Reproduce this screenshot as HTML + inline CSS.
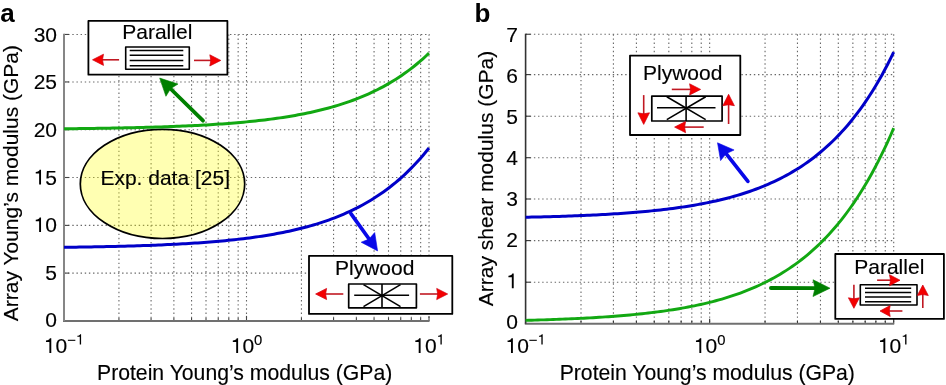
<!DOCTYPE html>
<html><head><meta charset="utf-8"><title>figure</title><style>html,body{margin:0;padding:0;background:#fff;}
svg{display:block;will-change:transform;}
.t{font-family:"Liberation Sans", sans-serif;font-size:21px;fill:#000;stroke:#000;stroke-width:0.15px;}
.pl{font-family:"Liberation Sans", sans-serif;font-size:26px;font-weight:bold;fill:#000;}
.g{stroke:#666;stroke-width:1.1;stroke-dasharray:1.4 2.75;fill:none;}
</style></head>
<body>
<svg width="946" height="385" viewBox="0 0 946 385">
<rect width="946" height="385" fill="#fff"/>
<line x1="118.94" y1="34.45" x2="118.94" y2="320.90" class="g"/>
<line x1="151.07" y1="34.45" x2="151.07" y2="320.90" class="g"/>
<line x1="173.88" y1="34.45" x2="173.88" y2="320.90" class="g"/>
<line x1="191.56" y1="34.45" x2="191.56" y2="320.90" class="g"/>
<line x1="206.01" y1="34.45" x2="206.01" y2="320.90" class="g"/>
<line x1="218.23" y1="34.45" x2="218.23" y2="320.90" class="g"/>
<line x1="228.81" y1="34.45" x2="228.81" y2="320.90" class="g"/>
<line x1="238.15" y1="34.45" x2="238.15" y2="320.90" class="g"/>
<line x1="246.50" y1="34.45" x2="246.50" y2="320.90" class="g"/>
<line x1="301.44" y1="34.45" x2="301.44" y2="320.90" class="g"/>
<line x1="333.57" y1="34.45" x2="333.57" y2="320.90" class="g"/>
<line x1="356.38" y1="34.45" x2="356.38" y2="320.90" class="g"/>
<line x1="374.06" y1="34.45" x2="374.06" y2="320.90" class="g"/>
<line x1="388.51" y1="34.45" x2="388.51" y2="320.90" class="g"/>
<line x1="400.73" y1="34.45" x2="400.73" y2="320.90" class="g"/>
<line x1="411.31" y1="34.45" x2="411.31" y2="320.90" class="g"/>
<line x1="420.65" y1="34.45" x2="420.65" y2="320.90" class="g"/>
<line x1="429.00" y1="34.45" x2="429.00" y2="320.90" class="g"/>
<line x1="64.00" y1="273.10" x2="429.70" y2="273.10" class="g"/>
<line x1="64.00" y1="225.40" x2="429.70" y2="225.40" class="g"/>
<line x1="64.00" y1="177.50" x2="429.70" y2="177.50" class="g"/>
<line x1="64.00" y1="129.75" x2="429.70" y2="129.75" class="g"/>
<line x1="64.00" y1="81.95" x2="429.70" y2="81.95" class="g"/>
<line x1="64.00" y1="34.45" x2="429.70" y2="34.45" class="g"/>
<ellipse cx="162.5" cy="183.9" rx="82.2" ry="54.6" fill="#ffff00" fill-opacity="0.3" stroke="#000" stroke-width="1.7"/>
<text x="100.40" y="185.20" text-anchor="start" class="t" >Exp. data [25]</text>
<line x1="64.00" y1="320.90" x2="64.00" y2="315.90" stroke="#444" stroke-width="1.1"/>
<line x1="118.94" y1="320.90" x2="118.94" y2="317.90" stroke="#444" stroke-width="1.1"/>
<line x1="151.07" y1="320.90" x2="151.07" y2="317.90" stroke="#444" stroke-width="1.1"/>
<line x1="173.88" y1="320.90" x2="173.88" y2="317.90" stroke="#444" stroke-width="1.1"/>
<line x1="191.56" y1="320.90" x2="191.56" y2="317.90" stroke="#444" stroke-width="1.1"/>
<line x1="206.01" y1="320.90" x2="206.01" y2="317.90" stroke="#444" stroke-width="1.1"/>
<line x1="218.23" y1="320.90" x2="218.23" y2="317.90" stroke="#444" stroke-width="1.1"/>
<line x1="228.81" y1="320.90" x2="228.81" y2="317.90" stroke="#444" stroke-width="1.1"/>
<line x1="238.15" y1="320.90" x2="238.15" y2="317.90" stroke="#444" stroke-width="1.1"/>
<line x1="246.50" y1="320.90" x2="246.50" y2="315.90" stroke="#444" stroke-width="1.1"/>
<line x1="301.44" y1="320.90" x2="301.44" y2="317.90" stroke="#444" stroke-width="1.1"/>
<line x1="333.57" y1="320.90" x2="333.57" y2="317.90" stroke="#444" stroke-width="1.1"/>
<line x1="356.38" y1="320.90" x2="356.38" y2="317.90" stroke="#444" stroke-width="1.1"/>
<line x1="374.06" y1="320.90" x2="374.06" y2="317.90" stroke="#444" stroke-width="1.1"/>
<line x1="388.51" y1="320.90" x2="388.51" y2="317.90" stroke="#444" stroke-width="1.1"/>
<line x1="400.73" y1="320.90" x2="400.73" y2="317.90" stroke="#444" stroke-width="1.1"/>
<line x1="411.31" y1="320.90" x2="411.31" y2="317.90" stroke="#444" stroke-width="1.1"/>
<line x1="420.65" y1="320.90" x2="420.65" y2="317.90" stroke="#444" stroke-width="1.1"/>
<line x1="429.00" y1="320.90" x2="429.00" y2="315.90" stroke="#444" stroke-width="1.1"/>
<line x1="64.00" y1="320.90" x2="69.00" y2="320.90" stroke="#444" stroke-width="1.1"/>
<line x1="64.00" y1="273.10" x2="69.00" y2="273.10" stroke="#444" stroke-width="1.1"/>
<line x1="64.00" y1="225.40" x2="69.00" y2="225.40" stroke="#444" stroke-width="1.1"/>
<line x1="64.00" y1="177.50" x2="69.00" y2="177.50" stroke="#444" stroke-width="1.1"/>
<line x1="64.00" y1="129.75" x2="69.00" y2="129.75" stroke="#444" stroke-width="1.1"/>
<line x1="64.00" y1="81.95" x2="69.00" y2="81.95" stroke="#444" stroke-width="1.1"/>
<line x1="64.00" y1="34.45" x2="69.00" y2="34.45" stroke="#444" stroke-width="1.1"/>
<line x1="63.00" y1="320.90" x2="429.50" y2="320.90" stroke="#707070" stroke-width="2.0"/>
<line x1="64.00" y1="33.85" x2="64.00" y2="320.90" stroke="#868686" stroke-width="2.0"/>
<path d="M64.00,128.75 L67.04,128.72 L70.08,128.69 L73.13,128.66 L76.17,128.63 L79.21,128.59 L82.25,128.56 L85.29,128.52 L88.33,128.48 L91.38,128.44 L94.42,128.40 L97.46,128.35 L100.50,128.31 L103.54,128.26 L106.58,128.21 L109.62,128.16 L112.67,128.11 L115.71,128.05 L118.75,127.99 L121.79,127.93 L124.83,127.87 L127.88,127.81 L130.92,127.74 L133.96,127.67 L137.00,127.60 L140.04,127.52 L143.08,127.45 L146.12,127.36 L149.17,127.28 L152.21,127.19 L155.25,127.10 L158.29,127.01 L161.33,126.91 L164.38,126.81 L167.42,126.70 L170.46,126.59 L173.50,126.48 L176.54,126.36 L179.58,126.23 L182.62,126.11 L185.67,125.97 L188.71,125.83 L191.75,125.69 L194.79,125.54 L197.83,125.38 L200.88,125.22 L203.92,125.05 L206.96,124.88 L210.00,124.70 L213.04,124.51 L216.08,124.31 L219.12,124.11 L222.17,123.90 L225.21,123.68 L228.25,123.45 L231.29,123.21 L234.33,122.97 L237.38,122.71 L240.42,122.44 L243.46,122.17 L246.50,121.88 L249.54,121.58 L252.58,121.27 L255.62,120.95 L258.67,120.61 L261.71,120.26 L264.75,119.90 L267.79,119.52 L270.83,119.13 L273.88,118.73 L276.92,118.30 L279.96,117.87 L283.00,117.41 L286.04,116.94 L289.08,116.44 L292.12,115.93 L295.17,115.40 L298.21,114.85 L301.25,114.27 L304.29,113.68 L307.33,113.06 L310.38,112.41 L313.42,111.75 L316.46,111.05 L319.50,110.33 L322.54,109.58 L325.58,108.80 L328.62,107.99 L331.67,107.14 L334.71,106.27 L337.75,105.36 L340.79,104.41 L343.83,103.43 L346.88,102.41 L349.92,101.35 L352.96,100.25 L356.00,99.10 L359.04,97.91 L362.08,96.68 L365.12,95.39 L368.17,94.06 L371.21,92.67 L374.25,91.23 L377.29,89.73 L380.33,88.17 L383.38,86.56 L386.42,84.87 L389.46,83.13 L392.50,81.31 L395.54,79.43 L398.58,77.47 L401.62,75.43 L404.67,73.31 L407.71,71.12 L410.75,68.83 L413.79,66.46 L416.83,63.99 L419.88,61.43 L422.92,58.76 L425.96,55.99 L429.00,53.12" fill="none" stroke="#12a812" stroke-width="3.0" stroke-linejoin="round"/>
<path d="M64.00,247.32 L67.04,247.28 L70.08,247.24 L73.13,247.19 L76.17,247.15 L79.21,247.11 L82.25,247.06 L85.29,247.01 L88.33,246.96 L91.38,246.90 L94.42,246.85 L97.46,246.79 L100.50,246.73 L103.54,246.67 L106.58,246.60 L109.62,246.54 L112.67,246.47 L115.71,246.39 L118.75,246.32 L121.79,246.24 L124.83,246.16 L127.88,246.08 L130.92,245.99 L133.96,245.90 L137.00,245.80 L140.04,245.70 L143.08,245.60 L146.12,245.49 L149.17,245.38 L152.21,245.27 L155.25,245.15 L158.29,245.02 L161.33,244.90 L164.38,244.76 L167.42,244.62 L170.46,244.48 L173.50,244.33 L176.54,244.17 L179.58,244.01 L182.62,243.84 L185.67,243.67 L188.71,243.48 L191.75,243.29 L194.79,243.10 L197.83,242.89 L200.88,242.68 L203.92,242.46 L206.96,242.23 L210.00,241.99 L213.04,241.75 L216.08,241.49 L219.12,241.22 L222.17,240.94 L225.21,240.65 L228.25,240.35 L231.29,240.04 L234.33,239.72 L237.38,239.38 L240.42,239.03 L243.46,238.67 L246.50,238.29 L249.54,237.90 L252.58,237.49 L255.62,237.07 L258.67,236.63 L261.71,236.17 L264.75,235.70 L267.79,235.20 L270.83,234.69 L273.88,234.16 L276.92,233.60 L279.96,233.03 L283.00,232.43 L286.04,231.81 L289.08,231.16 L292.12,230.49 L295.17,229.79 L298.21,229.07 L301.25,228.31 L304.29,227.53 L307.33,226.72 L310.38,225.87 L313.42,224.99 L316.46,224.08 L319.50,223.13 L322.54,222.15 L325.58,221.12 L328.62,220.06 L331.67,218.95 L334.71,217.80 L337.75,216.61 L340.79,215.37 L343.83,214.08 L346.88,212.74 L349.92,211.35 L352.96,209.90 L356.00,208.40 L359.04,206.84 L362.08,205.22 L365.12,203.53 L368.17,201.78 L371.21,199.96 L374.25,198.06 L377.29,196.10 L380.33,194.05 L383.38,191.93 L386.42,189.73 L389.46,187.43 L392.50,185.05 L395.54,182.58 L398.58,180.00 L401.62,177.33 L404.67,174.55 L407.71,171.67 L410.75,168.67 L413.79,165.55 L416.83,162.31 L419.88,158.95 L422.92,155.45 L425.96,151.82 L429.00,148.04" fill="none" stroke="#0000c8" stroke-width="3.0" stroke-linejoin="round"/>
<line x1="203.00" y1="120.70" x2="170.54" y2="88.76" stroke="#008000" stroke-width="3.8" stroke-linecap="round"/>
<path d="M159.70,78.10 L177.99,84.03 L170.54,88.76 L165.93,96.29 Z" fill="#008000" stroke="#008000" stroke-width="0.6" stroke-linejoin="round"/>
<line x1="350.90" y1="213.60" x2="369.10" y2="239.03" stroke="#0808e8" stroke-width="3.7" stroke-linecap="round"/>
<path d="M377.60,250.90 L361.19,242.23 L369.10,239.03 L374.69,232.57 Z" fill="#0808e8" stroke="#0808e8" stroke-width="0.6" stroke-linejoin="round"/>
<rect x="88.40" y="20.90" width="139.00" height="53.80" fill="#fff" stroke="#000" stroke-width="1.8" stroke-linejoin="round"/>
<text x="157.30" y="38.80" text-anchor="middle" class="t" >Parallel</text>
<rect x="125.70" y="47.00" width="63.60" height="22.20" fill="#fff" stroke="#000" stroke-width="1.6" stroke-linejoin="round"/>
<line x1="129.70" y1="50.40" x2="183.30" y2="50.40" stroke="#000" stroke-width="1.5"/>
<line x1="129.70" y1="55.30" x2="183.30" y2="55.30" stroke="#000" stroke-width="1.5"/>
<line x1="129.70" y1="60.50" x2="183.30" y2="60.50" stroke="#000" stroke-width="1.5"/>
<line x1="129.70" y1="65.80" x2="183.30" y2="65.80" stroke="#000" stroke-width="1.5"/>
<line x1="119.10" y1="59.80" x2="101.50" y2="59.80" stroke="#c01822" stroke-width="1.6"/>
<path d="M92.50,59.80 L103.50,54.20 L102.50,59.80 L103.50,65.40 Z" fill="#f40000" stroke="#d00010" stroke-width="0.7" stroke-linejoin="round"/>
<line x1="194.00" y1="60.40" x2="211.80" y2="60.40" stroke="#c01822" stroke-width="1.6"/>
<path d="M220.80,60.40 L209.80,66.00 L210.80,60.40 L209.80,54.80 Z" fill="#f40000" stroke="#d00010" stroke-width="0.7" stroke-linejoin="round"/>
<rect x="309.00" y="255.80" width="143.30" height="58.10" fill="#fff" stroke="#000" stroke-width="1.8" stroke-linejoin="round"/>
<text x="374.70" y="274.60" text-anchor="middle" class="t" >Plywood</text>
<rect x="348.70" y="284.00" width="67.70" height="23.80" fill="#fff" stroke="#000" stroke-width="1.7" stroke-linejoin="round"/>
<line x1="354.20" y1="295.20" x2="409.10" y2="295.20" stroke="#000" stroke-width="1.6"/>
<line x1="382.00" y1="284.00" x2="382.00" y2="307.80" stroke="#000" stroke-width="1.6"/>
<line x1="363.50" y1="284.60" x2="400.50" y2="306.60" stroke="#000" stroke-width="1.6"/>
<line x1="400.50" y1="284.60" x2="363.50" y2="306.60" stroke="#000" stroke-width="1.6"/>
<line x1="343.30" y1="294.00" x2="324.60" y2="294.00" stroke="#c01822" stroke-width="1.6"/>
<path d="M315.60,294.00 L326.60,288.40 L325.60,294.00 L326.60,299.60 Z" fill="#f40000" stroke="#d00010" stroke-width="0.7" stroke-linejoin="round"/>
<line x1="419.90" y1="294.00" x2="438.70" y2="294.00" stroke="#c01822" stroke-width="1.6"/>
<path d="M447.70,294.00 L436.70,299.60 L437.70,294.00 L436.70,288.40 Z" fill="#f40000" stroke="#d00010" stroke-width="0.7" stroke-linejoin="round"/>
<line x1="581.00" y1="34.25" x2="581.00" y2="323.70" class="g"/>
<line x1="613.41" y1="34.25" x2="613.41" y2="323.70" class="g"/>
<line x1="636.41" y1="34.25" x2="636.41" y2="323.70" class="g"/>
<line x1="654.25" y1="34.25" x2="654.25" y2="323.70" class="g"/>
<line x1="668.82" y1="34.25" x2="668.82" y2="323.70" class="g"/>
<line x1="681.14" y1="34.25" x2="681.14" y2="323.70" class="g"/>
<line x1="691.81" y1="34.25" x2="691.81" y2="323.70" class="g"/>
<line x1="701.23" y1="34.25" x2="701.23" y2="323.70" class="g"/>
<line x1="709.65" y1="34.25" x2="709.65" y2="323.70" class="g"/>
<line x1="765.05" y1="34.25" x2="765.05" y2="323.70" class="g"/>
<line x1="797.46" y1="34.25" x2="797.46" y2="323.70" class="g"/>
<line x1="820.46" y1="34.25" x2="820.46" y2="323.70" class="g"/>
<line x1="838.30" y1="34.25" x2="838.30" y2="323.70" class="g"/>
<line x1="852.87" y1="34.25" x2="852.87" y2="323.70" class="g"/>
<line x1="865.19" y1="34.25" x2="865.19" y2="323.70" class="g"/>
<line x1="875.86" y1="34.25" x2="875.86" y2="323.70" class="g"/>
<line x1="885.28" y1="34.25" x2="885.28" y2="323.70" class="g"/>
<line x1="893.70" y1="34.25" x2="893.70" y2="323.70" class="g"/>
<line x1="525.60" y1="282.20" x2="894.40" y2="282.20" class="g"/>
<line x1="525.60" y1="240.60" x2="894.40" y2="240.60" class="g"/>
<line x1="525.60" y1="199.00" x2="894.40" y2="199.00" class="g"/>
<line x1="525.60" y1="157.70" x2="894.40" y2="157.70" class="g"/>
<line x1="525.60" y1="116.20" x2="894.40" y2="116.20" class="g"/>
<line x1="525.60" y1="74.60" x2="894.40" y2="74.60" class="g"/>
<line x1="525.60" y1="34.25" x2="894.40" y2="34.25" class="g"/>
<line x1="525.60" y1="323.70" x2="525.60" y2="318.70" stroke="#333" stroke-width="1.1"/>
<line x1="581.00" y1="323.70" x2="581.00" y2="320.70" stroke="#333" stroke-width="1.1"/>
<line x1="613.41" y1="323.70" x2="613.41" y2="320.70" stroke="#333" stroke-width="1.1"/>
<line x1="636.41" y1="323.70" x2="636.41" y2="320.70" stroke="#333" stroke-width="1.1"/>
<line x1="654.25" y1="323.70" x2="654.25" y2="320.70" stroke="#333" stroke-width="1.1"/>
<line x1="668.82" y1="323.70" x2="668.82" y2="320.70" stroke="#333" stroke-width="1.1"/>
<line x1="681.14" y1="323.70" x2="681.14" y2="320.70" stroke="#333" stroke-width="1.1"/>
<line x1="691.81" y1="323.70" x2="691.81" y2="320.70" stroke="#333" stroke-width="1.1"/>
<line x1="701.23" y1="323.70" x2="701.23" y2="320.70" stroke="#333" stroke-width="1.1"/>
<line x1="709.65" y1="323.70" x2="709.65" y2="318.70" stroke="#333" stroke-width="1.1"/>
<line x1="765.05" y1="323.70" x2="765.05" y2="320.70" stroke="#333" stroke-width="1.1"/>
<line x1="797.46" y1="323.70" x2="797.46" y2="320.70" stroke="#333" stroke-width="1.1"/>
<line x1="820.46" y1="323.70" x2="820.46" y2="320.70" stroke="#333" stroke-width="1.1"/>
<line x1="838.30" y1="323.70" x2="838.30" y2="320.70" stroke="#333" stroke-width="1.1"/>
<line x1="852.87" y1="323.70" x2="852.87" y2="320.70" stroke="#333" stroke-width="1.1"/>
<line x1="865.19" y1="323.70" x2="865.19" y2="320.70" stroke="#333" stroke-width="1.1"/>
<line x1="875.86" y1="323.70" x2="875.86" y2="320.70" stroke="#333" stroke-width="1.1"/>
<line x1="885.28" y1="323.70" x2="885.28" y2="320.70" stroke="#333" stroke-width="1.1"/>
<line x1="893.70" y1="323.70" x2="893.70" y2="318.70" stroke="#333" stroke-width="1.1"/>
<line x1="525.60" y1="323.50" x2="530.60" y2="323.50" stroke="#333" stroke-width="1.1"/>
<line x1="525.60" y1="282.20" x2="530.60" y2="282.20" stroke="#333" stroke-width="1.1"/>
<line x1="525.60" y1="240.60" x2="530.60" y2="240.60" stroke="#333" stroke-width="1.1"/>
<line x1="525.60" y1="199.00" x2="530.60" y2="199.00" stroke="#333" stroke-width="1.1"/>
<line x1="525.60" y1="157.70" x2="530.60" y2="157.70" stroke="#333" stroke-width="1.1"/>
<line x1="525.60" y1="116.20" x2="530.60" y2="116.20" stroke="#333" stroke-width="1.1"/>
<line x1="525.60" y1="74.60" x2="530.60" y2="74.60" stroke="#333" stroke-width="1.1"/>
<line x1="525.60" y1="34.25" x2="530.60" y2="34.25" stroke="#333" stroke-width="1.1"/>
<line x1="524.80" y1="323.70" x2="894.20" y2="323.70" stroke="#707070" stroke-width="2.0"/>
<line x1="525.60" y1="33.65" x2="525.60" y2="323.70" stroke="#333" stroke-width="1.6"/>
<path d="M525.60,217.25 L528.67,217.19 L531.74,217.12 L534.80,217.05 L537.87,216.98 L540.94,216.90 L544.00,216.82 L547.07,216.74 L550.14,216.66 L553.21,216.57 L556.27,216.47 L559.34,216.38 L562.41,216.28 L565.48,216.18 L568.55,216.07 L571.61,215.96 L574.68,215.84 L577.75,215.72 L580.82,215.60 L583.88,215.46 L586.95,215.33 L590.02,215.19 L593.09,215.04 L596.15,214.89 L599.22,214.73 L602.29,214.57 L605.36,214.40 L608.42,214.22 L611.49,214.04 L614.56,213.85 L617.62,213.65 L620.69,213.44 L623.76,213.23 L626.83,213.01 L629.89,212.77 L632.96,212.53 L636.03,212.28 L639.10,212.02 L642.16,211.75 L645.23,211.47 L648.30,211.18 L651.37,210.88 L654.44,210.56 L657.50,210.24 L660.57,209.90 L663.64,209.54 L666.71,209.18 L669.77,208.80 L672.84,208.40 L675.91,207.99 L678.98,207.56 L682.04,207.12 L685.11,206.65 L688.18,206.17 L691.25,205.68 L694.31,205.16 L697.38,204.62 L700.45,204.06 L703.52,203.48 L706.58,202.87 L709.65,202.25 L712.72,201.59 L715.79,200.92 L718.85,200.21 L721.92,199.48 L724.99,198.72 L728.06,197.93 L731.12,197.11 L734.19,196.25 L737.26,195.37 L740.33,194.45 L743.39,193.49 L746.46,192.49 L749.53,191.46 L752.60,190.38 L755.66,189.27 L758.73,188.11 L761.80,186.90 L764.87,185.65 L767.93,184.35 L771.00,182.99 L774.07,181.59 L777.13,180.13 L780.20,178.61 L783.27,177.03 L786.34,175.40 L789.40,173.69 L792.47,171.92 L795.54,170.08 L798.61,168.17 L801.68,166.19 L804.74,164.12 L807.81,161.98 L810.88,159.75 L813.95,157.44 L817.01,155.03 L820.08,152.53 L823.15,149.94 L826.22,147.24 L829.28,144.43 L832.35,141.52 L835.42,138.49 L838.49,135.34 L841.55,132.07 L844.62,128.68 L847.69,125.15 L850.76,121.48 L853.82,117.66 L856.89,113.70 L859.96,109.59 L863.03,105.31 L866.09,100.86 L869.16,96.25 L872.23,91.45 L875.30,86.46 L878.36,81.28 L881.43,75.89 L884.50,70.30 L887.57,64.48 L890.63,58.44 L893.70,52.16" fill="none" stroke="#0000c8" stroke-width="3.0" stroke-linejoin="round"/>
<path d="M525.60,320.35 L528.67,320.27 L531.74,320.19 L534.80,320.10 L537.87,320.01 L540.94,319.92 L544.00,319.83 L547.07,319.73 L550.14,319.63 L553.21,319.52 L556.27,319.41 L559.34,319.29 L562.41,319.17 L565.48,319.05 L568.55,318.92 L571.61,318.79 L574.68,318.65 L577.75,318.50 L580.82,318.35 L583.88,318.19 L586.95,318.03 L590.02,317.86 L593.09,317.69 L596.15,317.50 L599.22,317.31 L602.29,317.12 L605.36,316.91 L608.42,316.70 L611.49,316.48 L614.56,316.25 L617.62,316.01 L620.69,315.76 L623.76,315.50 L626.83,315.24 L629.89,314.96 L632.96,314.67 L636.03,314.37 L639.10,314.06 L642.16,313.73 L645.23,313.40 L648.30,313.05 L651.37,312.68 L654.44,312.30 L657.50,311.91 L660.57,311.50 L663.64,311.08 L666.71,310.64 L669.77,310.18 L672.84,309.71 L675.91,309.21 L678.98,308.70 L682.04,308.17 L685.11,307.61 L688.18,307.04 L691.25,306.44 L694.31,305.82 L697.38,305.17 L700.45,304.50 L703.52,303.81 L706.58,303.08 L709.65,302.33 L712.72,301.55 L715.79,300.74 L718.85,299.90 L721.92,299.02 L724.99,298.11 L728.06,297.17 L731.12,296.19 L734.19,295.17 L737.26,294.11 L740.33,293.01 L743.39,291.87 L746.46,290.68 L749.53,289.45 L752.60,288.17 L755.66,286.84 L758.73,285.46 L761.80,284.03 L764.87,282.54 L767.93,280.99 L771.00,279.38 L774.07,277.71 L777.13,275.98 L780.20,274.18 L783.27,272.31 L786.34,270.37 L789.40,268.36 L792.47,266.27 L795.54,264.09 L798.61,261.84 L801.68,259.49 L804.74,257.06 L807.81,254.54 L810.88,251.92 L813.95,249.19 L817.01,246.37 L820.08,243.44 L823.15,240.39 L826.22,237.23 L829.28,233.95 L832.35,230.55 L835.42,227.01 L838.49,223.35 L841.55,219.54 L844.62,215.59 L847.69,211.50 L850.76,207.24 L853.82,202.83 L856.89,198.26 L859.96,193.51 L863.03,188.59 L866.09,183.48 L869.16,178.19 L872.23,172.69 L875.30,167.00 L878.36,161.09 L881.43,154.97 L884.50,148.62 L887.57,142.04 L890.63,135.22 L893.70,128.15" fill="none" stroke="#12a812" stroke-width="2.9" stroke-linejoin="round"/>
<line x1="747.90" y1="181.40" x2="726.10" y2="153.72" stroke="#0808e8" stroke-width="3.7" stroke-linecap="round"/>
<path d="M717.50,142.80 L734.09,149.97 L726.10,153.72 L720.58,160.61 Z" fill="#0808e8" stroke="#0808e8" stroke-width="0.6" stroke-linejoin="round"/>
<line x1="770.90" y1="288.00" x2="815.00" y2="288.15" stroke="#008000" stroke-width="3.8" stroke-linecap="round"/>
<path d="M830.00,288.20 L812.97,296.54 L815.00,288.15 L813.03,279.74 Z" fill="#008000" stroke="#008000" stroke-width="0.6" stroke-linejoin="round"/>
<rect x="630.00" y="55.60" width="110.30" height="79.40" fill="#fff" stroke="#000" stroke-width="1.8" stroke-linejoin="round"/>
<text x="682.70" y="79.60" text-anchor="middle" class="t" >Plywood</text>
<rect x="651.80" y="96.10" width="70.30" height="24.90" fill="#fff" stroke="#000" stroke-width="1.7" stroke-linejoin="round"/>
<line x1="657.00" y1="107.80" x2="715.50" y2="107.80" stroke="#000" stroke-width="1.6"/>
<line x1="686.10" y1="96.10" x2="686.10" y2="121.00" stroke="#000" stroke-width="1.6"/>
<line x1="666.80" y1="96.70" x2="705.70" y2="119.60" stroke="#000" stroke-width="1.6"/>
<line x1="705.70" y1="96.70" x2="666.80" y2="119.60" stroke="#000" stroke-width="1.6"/>
<line x1="671.80" y1="89.40" x2="691.60" y2="89.40" stroke="#c01822" stroke-width="1.6"/>
<path d="M700.60,89.40 L689.60,95.00 L690.60,89.40 L689.60,83.80 Z" fill="#f40000" stroke="#d00010" stroke-width="0.7" stroke-linejoin="round"/>
<line x1="703.70" y1="127.10" x2="683.60" y2="127.10" stroke="#c01822" stroke-width="1.6"/>
<path d="M674.60,127.10 L685.60,121.50 L684.60,127.10 L685.60,132.70 Z" fill="#f40000" stroke="#d00010" stroke-width="0.7" stroke-linejoin="round"/>
<line x1="643.70" y1="95.10" x2="643.70" y2="114.80" stroke="#c01822" stroke-width="1.6"/>
<path d="M643.70,124.40 L637.90,112.80 L643.70,113.80 L649.50,112.80 Z" fill="#f40000" stroke="#d00010" stroke-width="0.7" stroke-linejoin="round"/>
<line x1="728.60" y1="124.00" x2="728.60" y2="103.70" stroke="#c01822" stroke-width="1.6"/>
<path d="M728.60,94.30 L734.40,105.70 L728.60,104.70 L722.80,105.70 Z" fill="#f40000" stroke="#d00010" stroke-width="0.7" stroke-linejoin="round"/>
<rect x="835.30" y="254.00" width="108.60" height="64.90" fill="#fff" stroke="#000" stroke-width="1.8" stroke-linejoin="round"/>
<text x="889.30" y="274.20" text-anchor="middle" class="t" >Parallel</text>
<rect x="860.30" y="284.70" width="56.70" height="20.30" fill="#fff" stroke="#000" stroke-width="1.6" stroke-linejoin="round"/>
<line x1="865.00" y1="288.30" x2="911.20" y2="288.30" stroke="#000" stroke-width="1.5"/>
<line x1="865.00" y1="292.40" x2="911.20" y2="292.40" stroke="#000" stroke-width="1.5"/>
<line x1="865.00" y1="297.10" x2="911.20" y2="297.10" stroke="#000" stroke-width="1.5"/>
<line x1="865.00" y1="301.70" x2="911.20" y2="301.70" stroke="#000" stroke-width="1.5"/>
<line x1="877.10" y1="280.20" x2="891.50" y2="280.20" stroke="#c01822" stroke-width="1.6"/>
<path d="M900.00,280.20 L889.50,285.70 L890.50,280.20 L889.50,274.70 Z" fill="#f40000" stroke="#d00010" stroke-width="0.7" stroke-linejoin="round"/>
<line x1="902.40" y1="311.00" x2="888.20" y2="311.00" stroke="#c01822" stroke-width="1.6"/>
<path d="M880.00,311.00 L890.20,305.50 L889.20,311.00 L890.20,316.50 Z" fill="#f40000" stroke="#d00010" stroke-width="0.7" stroke-linejoin="round"/>
<line x1="853.90" y1="284.70" x2="853.90" y2="299.80" stroke="#c01822" stroke-width="1.6"/>
<path d="M853.90,308.30 L848.40,297.80 L853.90,298.80 L859.40,297.80 Z" fill="#f40000" stroke="#d00010" stroke-width="0.7" stroke-linejoin="round"/>
<line x1="922.80" y1="308.00" x2="922.80" y2="293.50" stroke="#c01822" stroke-width="1.6"/>
<path d="M922.80,285.00 L928.30,295.50 L922.80,294.50 L917.30,295.50 Z" fill="#f40000" stroke="#d00010" stroke-width="0.7" stroke-linejoin="round"/>
<text x="45.32" y="327.25" class="t" style="font-size:21px">0</text>
<text x="45.32" y="279.68" class="t" style="font-size:21px">5</text>
<path d="M39.14,232.10 L41.03,232.10 L41.03,217.40 L39.63,217.40 C39.27,218.76 37.84,219.54 35.74,219.63 L35.74,221.14 L39.14,221.14 Z" fill="#000"/>
<text x="45.32" y="232.10" class="t" style="font-size:21px">0</text>
<path d="M39.14,184.52 L41.03,184.52 L41.03,169.82 L39.63,169.82 C39.27,171.19 37.84,171.97 35.74,172.05 L35.74,173.56 L39.14,173.56 Z" fill="#000"/>
<text x="45.32" y="184.52" class="t" style="font-size:21px">5</text>
<text x="33.64" y="136.95" class="t" style="font-size:21px">2</text>
<text x="45.32" y="136.95" class="t" style="font-size:21px">0</text>
<text x="33.64" y="89.38" class="t" style="font-size:21px">2</text>
<text x="45.32" y="89.38" class="t" style="font-size:21px">5</text>
<text x="33.64" y="41.80" class="t" style="font-size:21px">3</text>
<text x="45.32" y="41.80" class="t" style="font-size:21px">0</text>
<path d="M49.39,352.90 L51.28,352.90 L51.28,338.20 L49.87,338.20 C49.51,339.56 48.08,340.34 45.98,340.43 L45.98,341.94 L49.39,341.94 Z" fill="#000"/>
<text x="55.56" y="352.90" class="t" style="font-size:21px">0</text>
<text x="67.24" y="344.60" class="t" style="font-size:14.8px">−</text>
<path d="M79.76,344.60 L81.09,344.60 L81.09,334.24 L80.10,334.24 C79.85,335.20 78.85,335.75 77.37,335.81 L77.37,336.87 L79.76,336.87 Z" fill="#000"/>
<path d="M236.21,352.90 L238.10,352.90 L238.10,338.20 L236.69,338.20 C236.33,339.56 234.91,340.34 232.81,340.43 L232.81,341.94 L236.21,341.94 Z" fill="#000"/>
<text x="242.38" y="352.90" class="t" style="font-size:21px">0</text>
<text x="254.06" y="344.60" class="t" style="font-size:14.8px">0</text>
<path d="M418.71,352.90 L420.60,352.90 L420.60,338.20 L419.19,338.20 C418.83,339.56 417.41,340.34 415.31,340.43 L415.31,341.94 L418.71,341.94 Z" fill="#000"/>
<text x="424.88" y="352.90" class="t" style="font-size:21px">0</text>
<path d="M440.44,344.60 L441.77,344.60 L441.77,334.24 L440.78,334.24 C440.53,335.20 439.52,335.75 438.04,335.81 L438.04,336.87 L440.44,336.87 Z" fill="#000"/>
<text x="506.32" y="329.25" class="t" style="font-size:21px">0</text>
<path d="M511.82,288.15 L513.71,288.15 L513.71,273.45 L512.31,273.45 C511.95,274.81 510.52,275.59 508.42,275.68 L508.42,277.19 L511.82,277.19 Z" fill="#000"/>
<text x="506.32" y="247.05" class="t" style="font-size:21px">2</text>
<text x="506.32" y="205.95" class="t" style="font-size:21px">3</text>
<text x="506.32" y="164.85" class="t" style="font-size:21px">4</text>
<text x="506.32" y="123.75" class="t" style="font-size:21px">5</text>
<text x="506.32" y="82.65" class="t" style="font-size:21px">6</text>
<text x="506.32" y="41.55" class="t" style="font-size:21px">7</text>
<path d="M510.99,352.90 L512.88,352.90 L512.88,338.20 L511.47,338.20 C511.11,339.56 509.68,340.34 507.58,340.43 L507.58,341.94 L510.99,341.94 Z" fill="#000"/>
<text x="517.16" y="352.90" class="t" style="font-size:21px">0</text>
<text x="528.84" y="344.60" class="t" style="font-size:14.8px">−</text>
<path d="M541.36,344.60 L542.69,344.60 L542.69,334.24 L541.70,334.24 C541.45,335.20 540.45,335.75 538.97,335.81 L538.97,336.87 L541.36,336.87 Z" fill="#000"/>
<path d="M699.36,352.90 L701.25,352.90 L701.25,338.20 L699.84,338.20 C699.48,339.56 698.06,340.34 695.96,340.43 L695.96,341.94 L699.36,341.94 Z" fill="#000"/>
<text x="705.53" y="352.90" class="t" style="font-size:21px">0</text>
<text x="717.21" y="344.60" class="t" style="font-size:14.8px">0</text>
<path d="M883.41,352.90 L885.30,352.90 L885.30,338.20 L883.89,338.20 C883.53,339.56 882.11,340.34 880.01,340.43 L880.01,341.94 L883.41,341.94 Z" fill="#000"/>
<text x="889.58" y="352.90" class="t" style="font-size:21px">0</text>
<path d="M905.14,344.60 L906.47,344.60 L906.47,334.24 L905.48,334.24 C905.23,335.20 904.22,335.75 902.74,335.81 L902.74,336.87 L905.14,336.87 Z" fill="#000"/>
<text x="244.65" y="379.50" text-anchor="middle" class="t" style="font-size:21.2px">Protein Young’s modulus (GPa)</text>
<text x="707.30" y="379.50" text-anchor="middle" class="t" style="font-size:21.2px">Protein Young’s modulus (GPa)</text>
<text transform="translate(17.8,183.1) rotate(-90)" text-anchor="middle" class="t">Array Young’s modulus (GPa)</text>
<text transform="translate(493,178.5) rotate(-90)" text-anchor="middle" class="t">Array shear modulus (GPa)</text>
<text x="0.3" y="22.4" class="pl">a</text>
<text x="474.4" y="22.0" class="pl">b</text>
</svg>
</body></html>
